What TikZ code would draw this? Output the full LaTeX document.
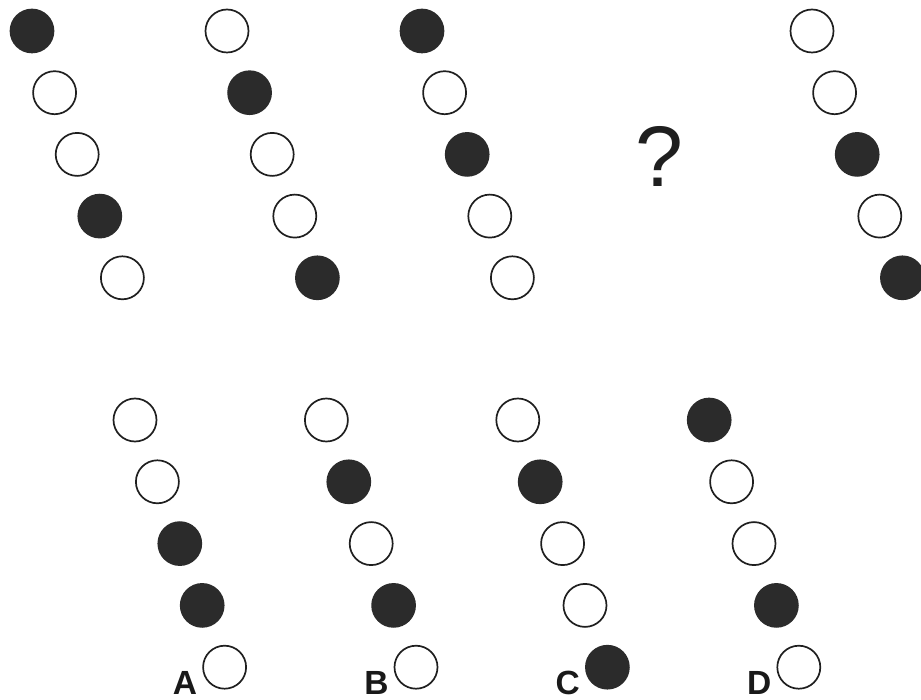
\documentclass[tikz,border=0pt]{standalone}
\usepackage{fontspec}
\newfontfamily\labfont{Liberation Sans}
\begin{document}
\begin{tikzpicture}[x=1pt,y=-1pt,
  wc/.style={circle, draw=black!88, line width=1.7pt, minimum size=43pt, inner sep=0pt},
  bc/.style={wc, fill=black!83, draw=black!83},
  lab/.style={anchor=base, inner sep=0pt, font=\labfont\fontsize{33.5}{40}\selectfont\bfseries, text=black!90},
  qm/.style={inner sep=0pt, font=\labfont\fontsize{86}{100}\selectfont, text=black!88}]
\useasboundingbox (0,0) rectangle (921,700);
% top row
\foreach \g/\x/\pat in {1/32/{1,0,0,1,0}, 2/227/{0,1,0,0,1}, 3/422/{1,0,1,0,0}, 4/812/{0,0,1,0,1}} {
  \foreach \f [count=\i from 0] in \pat {
    \ifnum\f=1
      \node[bc] (t\g c\i) at ({\x+22.6*\i},{31+61.7*\i}) {};
    \else
      \node[wc] (t\g c\i) at ({\x+22.6*\i},{31+61.7*\i}) {};
    \fi
  }
}
\node[qm] (q) at (659,156) {?};
% bottom row
\foreach \g/\x/\pat/\L in {1/135/{0,0,1,1,0}/A, 2/326.4/{0,1,0,1,0}/B, 3/517.8/{0,1,0,0,1}/C, 4/709.2/{1,0,0,1,0}/D} {
  \foreach \f [count=\i from 0] in \pat {
    \ifnum\f=1
      \node[bc] (b\g c\i) at ({\x+22.4*\i},{420+61.8*\i}) {};
    \else
      \node[wc] (b\g c\i) at ({\x+22.4*\i},{420+61.8*\i}) {};
    \fi
  }
  \node[lab] (l\g) at ({\x+50},694) {\L};
}
\end{tikzpicture}
\end{document}
